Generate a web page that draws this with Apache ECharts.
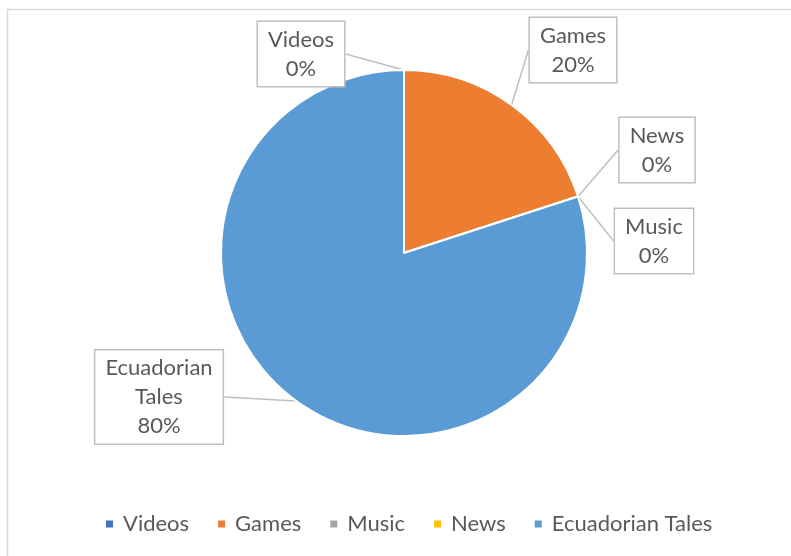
<!DOCTYPE html>
<html>
<head>
<meta charset="utf-8">
<script src="https://cdn.jsdelivr.net/npm/echarts@6/dist/echarts.min.js"></script>
<style>
  html, body { margin: 0; padding: 0; background: #fff; }
  #chart { width: 791px; height: 556px; }
</style>
</head>
<body>
<div id="chart"></div>
<script>
// Content categories and their share of the total
const categories = ['Videos', 'Games', 'Music', 'News', 'Ecuadorian Tales'];
const shares = [0, 20, 0, 0, 80];
const sliceColors = ['#4472C4', '#ED7D31', '#A5A5A5', '#FFC000', '#5B9BD5'];
const labelLines = [['Videos'], ['Games'], ['Music'], ['News'], ['Ecuadorian', 'Tales']];

// Where each callout box sits (box centre, in pixels)
const calloutCentres = [[301, 54], [573, 50], [654, 241], [657, 150], [159, 397]];

const FONT = 'Lato, "Liberation Sans", sans-serif';
const TEXT = '#595959';

const chart = echarts.init(document.getElementById('chart'), null, { renderer: 'canvas' });

const pieData = categories.map((name, i) => ({
  name: name,
  value: shares[i],
  itemStyle: { color: sliceColors[i] }
}));

chart.setOption({
  backgroundColor: '#ffffff',
  animation: false,
  graphic: [{
    type: 'rect',
    shape: { x: 7.5, y: 9.5, width: 1000, height: 800 },
    style: { fill: 'none', stroke: '#d9d9d9', lineWidth: 1.5 },
    silent: true,
    z: -1
  }],
  legend: {
    data: categories,
    left: 99,
    top: 508,
    icon: 'rect',
    itemWidth: 9,
    itemHeight: 9,
    itemGap: 27,
    textStyle: { color: TEXT, fontSize: 22, fontFamily: FONT, padding: [0, 0, 0, 4] }
  },
  series: [{
    type: 'pie',
    center: [404, 253],
    radius: 183,
    startAngle: 90,
    clockwise: true,
    stillShowZeroSum: true,
    avoidLabelOverlap: false,
    minShowLabelAngle: 0,
    itemStyle: { borderColor: '#ffffff', borderWidth: 2 },
    label: {
      show: true,
      position: 'outside',
      formatter: (p) => labelLines[p.dataIndex].join('\n') + '\n' + p.value + '%',
      color: TEXT,
      fontSize: 22,
      fontFamily: FONT,
      lineHeight: 29,
      align: 'center',
      backgroundColor: '#ffffff',
      borderColor: '#bfbfbf',
      borderWidth: 1.5,
      padding: [3, 10, 3, 10]
    },
    labelLine: {
      show: true,
      length: 10,
      length2: 0,
      lineStyle: { color: '#bfbfbf', width: 1.5 }
    },
    labelLayout: (params) => {
      const c = calloutCentres[params.dataIndex];
      return { x: c[0], y: c[1], align: 'center', verticalAlign: 'middle' };
    },
    emphasis: { disabled: true },
    data: pieData
  }]
});
</script>
</body>
</html>
